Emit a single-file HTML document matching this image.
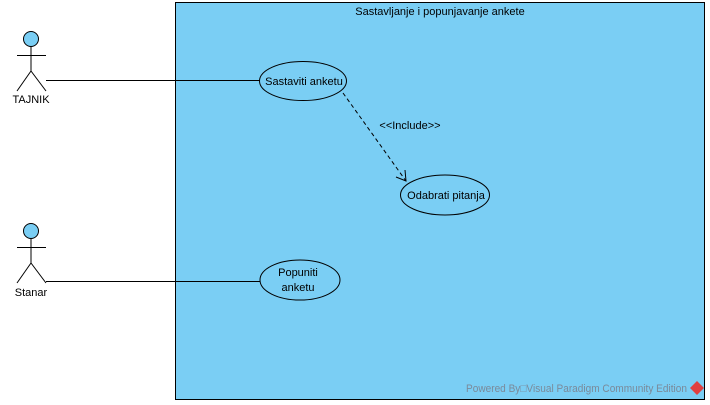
<!DOCTYPE html>
<html><head><meta charset="utf-8"><style>
html,body{margin:0;padding:0;background:#fff;}
svg{display:block;}
text{font-family:"Liberation Sans",sans-serif;font-size:11px;fill:#000;}
</style></head><body>
<svg width="710" height="405" viewBox="0 0 710 405" xmlns="http://www.w3.org/2000/svg">
<rect x="175.5" y="2.5" width="529" height="397" fill="#7acef4" stroke="#000" stroke-width="1"/>
<text x="440" y="15" text-anchor="middle">Sastavljanje i popunjavanje ankete</text>
<g stroke="#000" stroke-width="1" fill="none">
<circle cx="31" cy="39" r="7.5" fill="#7acef4"/>
<line x1="31" y1="46.5" x2="31" y2="71"/>
<line x1="17" y1="55.5" x2="46" y2="55.5"/>
<line x1="31" y1="71" x2="17" y2="91"/>
<line x1="31" y1="71" x2="46" y2="91"/>
<circle cx="31" cy="231" r="7.5" fill="#7acef4"/>
<line x1="31" y1="238.5" x2="31" y2="263"/>
<line x1="17" y1="247.5" x2="46" y2="247.5"/>
<line x1="31" y1="263" x2="17" y2="283"/>
<line x1="31" y1="263" x2="46" y2="283"/>
<line x1="46" y1="80.5" x2="260" y2="80.5"/>
<line x1="46" y1="281.5" x2="260" y2="281.5"/>
<line x1="343" y1="93" x2="406" y2="181" stroke-dasharray="4,3"/>
<polyline points="396,177 406,181 405,170"/>
<ellipse cx="303" cy="81" rx="43.5" ry="19.5" fill="#7acef4"/>
<ellipse cx="300" cy="280" rx="40" ry="20" fill="#7acef4"/>
<ellipse cx="445" cy="195" rx="44.5" ry="20" fill="#7acef4"/>
</g>
<text x="31" y="103" text-anchor="middle">TAJNIK</text>
<text x="31" y="296" text-anchor="middle">Stanar</text>
<text x="304" y="85" text-anchor="middle">Sastaviti anketu</text>
<text x="410" y="129" text-anchor="middle">&lt;&lt;Include&gt;&gt;</text>
<text x="446" y="199" text-anchor="middle">Odabrati pitanja</text>
<text x="298" y="276" text-anchor="middle">Popuniti</text>
<text x="298" y="291" text-anchor="middle">anketu</text>
<text x="466" y="392" textLength="221" lengthAdjust="spacingAndGlyphs" style="fill:#7a8a9a;font-size:11px">Powered By□Visual Paradigm Community Edition</text>
<polygon points="697,381 704,388 697,395 690,388" fill="#e04040"/>
</svg>
</body></html>
